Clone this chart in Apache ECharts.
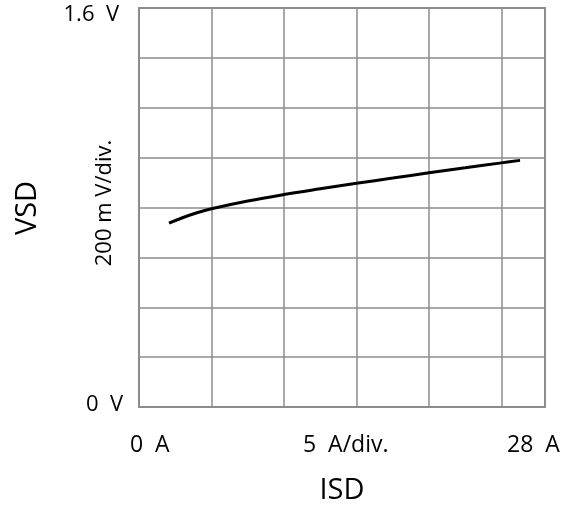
<!DOCTYPE html>
<html>
<head>
<meta charset="utf-8">
<script src="https://cdn.jsdelivr.net/npm/echarts@6/dist/echarts.min.js"></script>
<style>
    html, body { margin: 0; padding: 0; background: #fff; }
    #main { width: 575px; height: 512px; }
</style>
</head>
<body>
<div id="main"></div>
<script>
//数据
var isd = [2.07, 3, 4, 5, 7.5, 10, 12.5, 15, 17.5, 20, 22.5, 25, 26.28];
var vsd = [0.737, 0.759, 0.779, 0.795, 0.826, 0.852, 0.875, 0.897, 0.918, 0.939, 0.959, 0.979, 0.989];
var xLabels = ['0  A', '5  A/div.', '28  A'];
var yLabels = ['1.6  V', '0  V'];

var font = 'Open Sans';
var gridColor = '#8c8c8c';

var points = isd.map(function (v, i) { return [v, vsd[i]]; });

function label(text, x, y, size, align, rot) {
    return {
        type: 'text', x: x, y: y, rotation: rot || 0,
        style: { text: text, font: size + 'px "' + font + '"', fill: '#000', align: align, verticalAlign: 'middle' }
    };
}

var myChart = echarts.init(document.getElementById('main'));
myChart.setOption({
    animation: false,
    grid: {
        left: 139, top: 8, right: 30, bottom: 105,
        show: true, borderColor: gridColor, borderWidth: 2
    },
    xAxis: {
        type: 'value', min: 0, max: 28, interval: 5,
        axisLine: { show: false }, axisTick: { show: false }, axisLabel: { show: false },
        splitLine: { show: true, lineStyle: { color: gridColor, width: 1.5 } }
    },
    yAxis: {
        type: 'value', min: 0, max: 1.6, interval: 0.2,
        axisLine: { show: false }, axisTick: { show: false }, axisLabel: { show: false },
        splitLine: { show: true, lineStyle: { color: gridColor, width: 1.5 } }
    },
    series: [{
        type: 'line',
        data: points,
        smooth: 0.4,
        showSymbol: false,
        lineStyle: { color: '#000', width: 3 }
    }],
    graphic: [
        label(yLabels[0], 119, 15, 22, 'right'),
        label(yLabels[1], 123, 405, 22, 'right'),
        label(xLabels[0], 130, 445, 23, 'left'),
        label(xLabels[1], 303, 445, 23, 'left'),
        label(xLabels[2], 507, 445, 23, 'left'),
        label('ISD', 342, 491, 29, 'center'),
        label('VSD', 28, 208, 29, 'center', Math.PI / 2),
        label('200 m V/div.', 105, 203, 22, 'center', Math.PI / 2)
    ]
});
</script>
</body>
</html>
